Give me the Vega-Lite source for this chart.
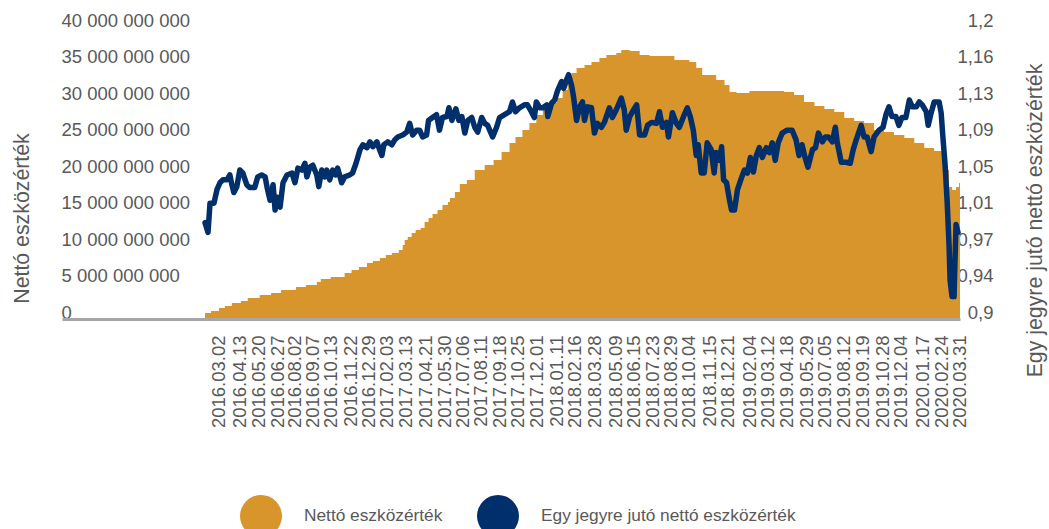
{
  "$schema": "https://vega.github.io/schema/vega-lite/v6.json",
  "autosize": {"type": "none"},
  "width": 898,
  "height": 292,
  "padding": {"left": 62, "top": 27, "right": 89, "bottom": 210},
  "config": {
    "font": "Liberation Sans",
    "view": {"stroke": null},
    "axis": {"labelColor": "#595959", "titleColor": "#595959", "labelFontSize": 18.5, "titleFontSize": 21.3, "titleFontWeight": "normal", "grid": false, "labelOverlap": false}
  },
  "datasets": {
    "nav": [
      {"date": "2016-02-03", "nav": 820000000},
      {"date": "2016-02-15", "nav": 1100000000},
      {"date": "2016-03-02", "nav": 1510000000},
      {"date": "2016-03-14", "nav": 1780000000},
      {"date": "2016-03-28", "nav": 2190000000},
      {"date": "2016-04-15", "nav": 2470000000},
      {"date": "2016-04-29", "nav": 2880000000},
      {"date": "2016-05-23", "nav": 3290000000},
      {"date": "2016-06-15", "nav": 3560000000},
      {"date": "2016-07-05", "nav": 3970000000},
      {"date": "2016-08-04", "nav": 4380000000},
      {"date": "2016-08-24", "nav": 4660000000},
      {"date": "2016-09-15", "nav": 5070000000},
      {"date": "2016-09-23", "nav": 5480000000},
      {"date": "2016-10-13", "nav": 5750000000},
      {"date": "2016-11-10", "nav": 6300000000},
      {"date": "2016-11-24", "nav": 6710000000},
      {"date": "2016-12-09", "nav": 7120000000},
      {"date": "2016-12-25", "nav": 7670000000},
      {"date": "2017-01-06", "nav": 7950000000},
      {"date": "2017-01-20", "nav": 8360000000},
      {"date": "2017-02-01", "nav": 8770000000},
      {"date": "2017-02-13", "nav": 9040000000},
      {"date": "2017-02-27", "nav": 9450000000},
      {"date": "2017-03-07", "nav": 10140000000},
      {"date": "2017-03-11", "nav": 10820000000},
      {"date": "2017-03-17", "nav": 11230000000},
      {"date": "2017-03-25", "nav": 11780000000},
      {"date": "2017-04-02", "nav": 12190000000},
      {"date": "2017-04-12", "nav": 12470000000},
      {"date": "2017-04-20", "nav": 13290000000},
      {"date": "2017-04-28", "nav": 13840000000},
      {"date": "2017-05-06", "nav": 14380000000},
      {"date": "2017-05-16", "nav": 14930000000},
      {"date": "2017-05-26", "nav": 15620000000},
      {"date": "2017-06-06", "nav": 16030000000},
      {"date": "2017-06-10", "nav": 16580000000},
      {"date": "2017-06-20", "nav": 17400000000},
      {"date": "2017-06-30", "nav": 18490000000},
      {"date": "2017-07-14", "nav": 19040000000},
      {"date": "2017-07-30", "nav": 20410000000},
      {"date": "2017-08-19", "nav": 21100000000},
      {"date": "2017-09-06", "nav": 21780000000},
      {"date": "2017-09-22", "nav": 22880000000},
      {"date": "2017-10-08", "nav": 24110000000},
      {"date": "2017-10-20", "nav": 24930000000},
      {"date": "2017-11-03", "nav": 25890000000},
      {"date": "2017-11-17", "nav": 26850000000},
      {"date": "2017-12-01", "nav": 27950000000},
      {"date": "2017-12-14", "nav": 28630000000},
      {"date": "2017-12-28", "nav": 29590000000},
      {"date": "2018-01-11", "nav": 30270000000},
      {"date": "2018-01-23", "nav": 31370000000},
      {"date": "2018-02-02", "nav": 33010000000},
      {"date": "2018-02-10", "nav": 33700000000},
      {"date": "2018-02-20", "nav": 34380000000},
      {"date": "2018-03-08", "nav": 34800000000},
      {"date": "2018-03-22", "nav": 35210000000},
      {"date": "2018-04-07", "nav": 35750000000},
      {"date": "2018-04-21", "nav": 36170000000},
      {"date": "2018-05-11", "nav": 36440000000},
      {"date": "2018-05-21", "nav": 36850000000},
      {"date": "2018-06-07", "nav": 36710000000},
      {"date": "2018-06-27", "nav": 36170000000},
      {"date": "2018-07-17", "nav": 36030000000},
      {"date": "2018-09-05", "nav": 35480000000},
      {"date": "2018-10-05", "nav": 35210000000},
      {"date": "2018-10-19", "nav": 34380000000},
      {"date": "2018-10-31", "nav": 33430000000},
      {"date": "2018-11-28", "nav": 32740000000},
      {"date": "2018-12-15", "nav": 32060000000},
      {"date": "2018-12-25", "nav": 31100000000},
      {"date": "2019-01-08", "nav": 30960000000},
      {"date": "2019-02-03", "nav": 31230000000},
      {"date": "2019-04-14", "nav": 31100000000},
      {"date": "2019-05-04", "nav": 30690000000},
      {"date": "2019-05-24", "nav": 29730000000},
      {"date": "2019-06-14", "nav": 29180000000},
      {"date": "2019-07-04", "nav": 28770000000},
      {"date": "2019-07-24", "nav": 28360000000},
      {"date": "2019-08-13", "nav": 27530000000},
      {"date": "2019-09-02", "nav": 27120000000},
      {"date": "2019-09-22", "nav": 26850000000},
      {"date": "2019-10-12", "nav": 25890000000},
      {"date": "2019-11-01", "nav": 25620000000},
      {"date": "2019-11-21", "nav": 25210000000},
      {"date": "2019-12-12", "nav": 24800000000},
      {"date": "2020-01-01", "nav": 24110000000},
      {"date": "2020-01-21", "nav": 23430000000},
      {"date": "2020-02-10", "nav": 23010000000},
      {"date": "2020-02-28", "nav": 22740000000},
      {"date": "2020-03-07", "nav": 20410000000},
      {"date": "2020-03-11", "nav": 18080000000},
      {"date": "2020-03-17", "nav": 17670000000},
      {"date": "2020-03-25", "nav": 18080000000},
      {"date": "2020-03-31", "nav": 18630000000},
      {"date": "2020-04-02", "nav": 18630000000}
    ],
    "price": [
      {"date": "2016-02-03", "price": 0.999},
      {"date": "2016-02-09", "price": 0.989},
      {"date": "2016-02-13", "price": 1.019},
      {"date": "2016-02-21", "price": 1.019},
      {"date": "2016-02-27", "price": 1.033},
      {"date": "2016-03-04", "price": 1.040},
      {"date": "2016-03-10", "price": 1.043},
      {"date": "2016-03-18", "price": 1.043},
      {"date": "2016-03-24", "price": 1.048},
      {"date": "2016-03-28", "price": 1.038},
      {"date": "2016-04-01", "price": 1.030},
      {"date": "2016-04-07", "price": 1.036},
      {"date": "2016-04-13", "price": 1.053},
      {"date": "2016-04-19", "price": 1.050},
      {"date": "2016-04-27", "price": 1.038},
      {"date": "2016-05-03", "price": 1.035},
      {"date": "2016-05-13", "price": 1.035},
      {"date": "2016-05-19", "price": 1.046},
      {"date": "2016-05-27", "price": 1.048},
      {"date": "2016-06-03", "price": 1.046},
      {"date": "2016-06-07", "price": 1.035},
      {"date": "2016-06-13", "price": 1.022},
      {"date": "2016-06-19", "price": 1.038},
      {"date": "2016-06-23", "price": 1.012},
      {"date": "2016-06-27", "price": 1.025},
      {"date": "2016-07-03", "price": 1.015},
      {"date": "2016-07-09", "price": 1.040},
      {"date": "2016-07-17", "price": 1.048},
      {"date": "2016-07-27", "price": 1.050},
      {"date": "2016-08-02", "price": 1.040},
      {"date": "2016-08-08", "price": 1.055},
      {"date": "2016-08-16", "price": 1.053},
      {"date": "2016-08-22", "price": 1.060},
      {"date": "2016-08-26", "price": 1.046},
      {"date": "2016-09-01", "price": 1.056},
      {"date": "2016-09-07", "price": 1.058},
      {"date": "2016-09-15", "price": 1.048},
      {"date": "2016-09-19", "price": 1.036},
      {"date": "2016-09-25", "price": 1.053},
      {"date": "2016-10-01", "price": 1.046},
      {"date": "2016-10-05", "price": 1.053},
      {"date": "2016-10-11", "price": 1.043},
      {"date": "2016-10-17", "price": 1.053},
      {"date": "2016-10-23", "price": 1.048},
      {"date": "2016-10-27", "price": 1.055},
      {"date": "2016-11-04", "price": 1.040},
      {"date": "2016-11-10", "price": 1.046},
      {"date": "2016-11-20", "price": 1.048},
      {"date": "2016-11-26", "price": 1.050},
      {"date": "2016-12-03", "price": 1.060},
      {"date": "2016-12-11", "price": 1.074},
      {"date": "2016-12-17", "price": 1.079},
      {"date": "2016-12-25", "price": 1.076},
      {"date": "2016-12-31", "price": 1.082},
      {"date": "2017-01-06", "price": 1.077},
      {"date": "2017-01-14", "price": 1.082},
      {"date": "2017-01-18", "price": 1.076},
      {"date": "2017-01-24", "price": 1.068},
      {"date": "2017-01-28", "price": 1.079},
      {"date": "2017-02-05", "price": 1.082},
      {"date": "2017-02-13", "price": 1.079},
      {"date": "2017-02-19", "price": 1.084},
      {"date": "2017-02-25", "price": 1.087},
      {"date": "2017-03-07", "price": 1.089},
      {"date": "2017-03-15", "price": 1.092},
      {"date": "2017-03-21", "price": 1.101},
      {"date": "2017-03-27", "price": 1.089},
      {"date": "2017-04-04", "price": 1.094},
      {"date": "2017-04-10", "price": 1.094},
      {"date": "2017-04-16", "price": 1.087},
      {"date": "2017-04-24", "price": 1.089},
      {"date": "2017-04-28", "price": 1.104},
      {"date": "2017-05-06", "price": 1.107},
      {"date": "2017-05-14", "price": 1.110},
      {"date": "2017-05-20", "price": 1.094},
      {"date": "2017-05-26", "price": 1.107},
      {"date": "2017-06-04", "price": 1.108},
      {"date": "2017-06-08", "price": 1.117},
      {"date": "2017-06-14", "price": 1.104},
      {"date": "2017-06-22", "price": 1.116},
      {"date": "2017-06-28", "price": 1.104},
      {"date": "2017-07-04", "price": 1.108},
      {"date": "2017-07-10", "price": 1.091},
      {"date": "2017-07-16", "price": 1.104},
      {"date": "2017-07-24", "price": 1.107},
      {"date": "2017-07-30", "price": 1.097},
      {"date": "2017-08-05", "price": 1.092},
      {"date": "2017-08-13", "price": 1.107},
      {"date": "2017-08-19", "price": 1.101},
      {"date": "2017-08-25", "price": 1.099},
      {"date": "2017-09-04", "price": 1.087},
      {"date": "2017-09-12", "price": 1.097},
      {"date": "2017-09-18", "price": 1.107},
      {"date": "2017-09-28", "price": 1.110},
      {"date": "2017-10-08", "price": 1.113},
      {"date": "2017-10-14", "price": 1.123},
      {"date": "2017-10-20", "price": 1.113},
      {"date": "2017-10-28", "price": 1.117},
      {"date": "2017-11-07", "price": 1.120},
      {"date": "2017-11-13", "price": 1.120},
      {"date": "2017-11-21", "price": 1.113},
      {"date": "2017-11-27", "price": 1.107},
      {"date": "2017-12-01", "price": 1.123},
      {"date": "2017-12-08", "price": 1.117},
      {"date": "2017-12-14", "price": 1.117},
      {"date": "2017-12-22", "price": 1.120},
      {"date": "2017-12-24", "price": 1.108},
      {"date": "2018-01-01", "price": 1.122},
      {"date": "2018-01-07", "price": 1.125},
      {"date": "2018-01-13", "price": 1.135},
      {"date": "2018-01-21", "price": 1.144},
      {"date": "2018-01-25", "price": 1.137},
      {"date": "2018-01-31", "price": 1.146},
      {"date": "2018-02-04", "price": 1.151},
      {"date": "2018-02-10", "price": 1.140},
      {"date": "2018-02-14", "price": 1.128},
      {"date": "2018-02-20", "price": 1.104},
      {"date": "2018-02-26", "price": 1.118},
      {"date": "2018-03-04", "price": 1.123},
      {"date": "2018-03-08", "price": 1.104},
      {"date": "2018-03-14", "price": 1.118},
      {"date": "2018-03-22", "price": 1.117},
      {"date": "2018-03-28", "price": 1.091},
      {"date": "2018-04-03", "price": 1.101},
      {"date": "2018-04-11", "price": 1.097},
      {"date": "2018-04-17", "price": 1.102},
      {"date": "2018-04-27", "price": 1.117},
      {"date": "2018-05-03", "price": 1.107},
      {"date": "2018-05-11", "price": 1.115},
      {"date": "2018-05-21", "price": 1.127},
      {"date": "2018-05-27", "price": 1.115},
      {"date": "2018-05-31", "price": 1.094},
      {"date": "2018-06-07", "price": 1.108},
      {"date": "2018-06-15", "price": 1.115},
      {"date": "2018-06-21", "price": 1.120},
      {"date": "2018-06-27", "price": 1.089},
      {"date": "2018-07-07", "price": 1.089},
      {"date": "2018-07-13", "price": 1.099},
      {"date": "2018-07-21", "price": 1.102},
      {"date": "2018-07-31", "price": 1.101},
      {"date": "2018-08-06", "price": 1.113},
      {"date": "2018-08-12", "price": 1.097},
      {"date": "2018-08-20", "price": 1.102},
      {"date": "2018-08-24", "price": 1.087},
      {"date": "2018-09-01", "price": 1.112},
      {"date": "2018-09-09", "price": 1.101},
      {"date": "2018-09-15", "price": 1.097},
      {"date": "2018-09-25", "price": 1.110},
      {"date": "2018-10-01", "price": 1.117},
      {"date": "2018-10-07", "price": 1.108},
      {"date": "2018-10-13", "price": 1.094},
      {"date": "2018-10-19", "price": 1.068},
      {"date": "2018-10-23", "price": 1.079},
      {"date": "2018-10-29", "price": 1.050},
      {"date": "2018-11-04", "price": 1.050},
      {"date": "2018-11-10", "price": 1.081},
      {"date": "2018-11-18", "price": 1.074},
      {"date": "2018-11-24", "price": 1.050},
      {"date": "2018-11-28", "price": 1.071},
      {"date": "2018-12-05", "price": 1.063},
      {"date": "2018-12-09", "price": 1.077},
      {"date": "2018-12-13", "price": 1.043},
      {"date": "2018-12-19", "price": 1.040},
      {"date": "2018-12-25", "price": 1.022},
      {"date": "2018-12-29", "price": 1.012},
      {"date": "2019-01-04", "price": 1.012},
      {"date": "2019-01-10", "price": 1.033},
      {"date": "2019-01-18", "price": 1.045},
      {"date": "2019-01-24", "price": 1.053},
      {"date": "2019-01-30", "price": 1.050},
      {"date": "2019-02-05", "price": 1.066},
      {"date": "2019-02-11", "price": 1.051},
      {"date": "2019-02-17", "price": 1.068},
      {"date": "2019-02-23", "price": 1.076},
      {"date": "2019-03-01", "price": 1.066},
      {"date": "2019-03-09", "price": 1.076},
      {"date": "2019-03-15", "price": 1.071},
      {"date": "2019-03-21", "price": 1.081},
      {"date": "2019-03-27", "price": 1.063},
      {"date": "2019-04-02", "price": 1.081},
      {"date": "2019-04-10", "price": 1.091},
      {"date": "2019-04-20", "price": 1.094},
      {"date": "2019-04-30", "price": 1.094},
      {"date": "2019-05-08", "price": 1.084},
      {"date": "2019-05-14", "price": 1.068},
      {"date": "2019-05-20", "price": 1.079},
      {"date": "2019-05-26", "price": 1.066},
      {"date": "2019-06-01", "price": 1.056},
      {"date": "2019-06-10", "price": 1.074},
      {"date": "2019-06-16", "price": 1.076},
      {"date": "2019-06-22", "price": 1.091},
      {"date": "2019-06-30", "price": 1.082},
      {"date": "2019-07-06", "price": 1.087},
      {"date": "2019-07-12", "price": 1.087},
      {"date": "2019-07-20", "price": 1.082},
      {"date": "2019-07-26", "price": 1.097},
      {"date": "2019-07-30", "price": 1.081},
      {"date": "2019-08-07", "price": 1.061},
      {"date": "2019-08-17", "price": 1.061},
      {"date": "2019-08-25", "price": 1.060},
      {"date": "2019-08-31", "price": 1.074},
      {"date": "2019-09-06", "price": 1.084},
      {"date": "2019-09-16", "price": 1.099},
      {"date": "2019-09-22", "price": 1.087},
      {"date": "2019-09-28", "price": 1.087},
      {"date": "2019-10-06", "price": 1.072},
      {"date": "2019-10-12", "price": 1.087},
      {"date": "2019-10-22", "price": 1.094},
      {"date": "2019-10-30", "price": 1.097},
      {"date": "2019-11-05", "price": 1.110},
      {"date": "2019-11-11", "price": 1.118},
      {"date": "2019-11-17", "price": 1.108},
      {"date": "2019-11-25", "price": 1.108},
      {"date": "2019-12-01", "price": 1.099},
      {"date": "2019-12-07", "price": 1.107},
      {"date": "2019-12-15", "price": 1.107},
      {"date": "2019-12-22", "price": 1.125},
      {"date": "2019-12-28", "price": 1.118},
      {"date": "2020-01-05", "price": 1.118},
      {"date": "2020-01-11", "price": 1.123},
      {"date": "2020-01-17", "price": 1.120},
      {"date": "2020-01-25", "price": 1.113},
      {"date": "2020-01-29", "price": 1.099},
      {"date": "2020-02-04", "price": 1.112},
      {"date": "2020-02-10", "price": 1.123},
      {"date": "2020-02-20", "price": 1.123},
      {"date": "2020-02-24", "price": 1.112},
      {"date": "2020-02-28", "price": 1.084},
      {"date": "2020-03-03", "price": 1.058},
      {"date": "2020-03-07", "price": 1.022},
      {"date": "2020-03-11", "price": 0.976},
      {"date": "2020-03-13", "price": 0.940},
      {"date": "2020-03-17", "price": 0.923},
      {"date": "2020-03-21", "price": 0.923},
      {"date": "2020-03-23", "price": 0.961},
      {"date": "2020-03-25", "price": 0.997},
      {"date": "2020-03-29", "price": 0.989}
    ]
  },
  "encoding": {
    "x": {
      "field": "date", "type": "temporal",
      "scale": {"type": "utc", "domain": [{"year": 2015, "month": 4, "date": 21, "utc": true}, {"year": 2020, "month": 4, "date": 2, "utc": true}]},
      "axis": {
        "title": null, "format": "%Y.%m.%d", "labelAngle": 270, "labelPadding": 16, "ticks": false,
        "domainColor": "#A6A6A6", "domainWidth": 3, "labelOverlap": false, "labelFlush": false, "labelBound": false, "zindex": 1,
        "values": [
          {"year": 2016, "month": 3, "date": 2, "utc": true},
          {"year": 2016, "month": 4, "date": 13, "utc": true},
          {"year": 2016, "month": 5, "date": 20, "utc": true},
          {"year": 2016, "month": 6, "date": 27, "utc": true},
          {"year": 2016, "month": 8, "date": 2, "utc": true},
          {"year": 2016, "month": 9, "date": 7, "utc": true},
          {"year": 2016, "month": 10, "date": 13, "utc": true},
          {"year": 2016, "month": 11, "date": 22, "utc": true},
          {"year": 2016, "month": 12, "date": 29, "utc": true},
          {"year": 2017, "month": 2, "date": 3, "utc": true},
          {"year": 2017, "month": 3, "date": 13, "utc": true},
          {"year": 2017, "month": 4, "date": 21, "utc": true},
          {"year": 2017, "month": 5, "date": 30, "utc": true},
          {"year": 2017, "month": 7, "date": 6, "utc": true},
          {"year": 2017, "month": 8, "date": 11, "utc": true},
          {"year": 2017, "month": 9, "date": 18, "utc": true},
          {"year": 2017, "month": 10, "date": 25, "utc": true},
          {"year": 2017, "month": 12, "date": 1, "utc": true},
          {"year": 2018, "month": 1, "date": 11, "utc": true},
          {"year": 2018, "month": 2, "date": 16, "utc": true},
          {"year": 2018, "month": 3, "date": 28, "utc": true},
          {"year": 2018, "month": 5, "date": 9, "utc": true},
          {"year": 2018, "month": 6, "date": 15, "utc": true},
          {"year": 2018, "month": 7, "date": 23, "utc": true},
          {"year": 2018, "month": 8, "date": 29, "utc": true},
          {"year": 2018, "month": 10, "date": 4, "utc": true},
          {"year": 2018, "month": 11, "date": 15, "utc": true},
          {"year": 2018, "month": 12, "date": 21, "utc": true},
          {"year": 2019, "month": 2, "date": 4, "utc": true},
          {"year": 2019, "month": 3, "date": 12, "utc": true},
          {"year": 2019, "month": 4, "date": 18, "utc": true},
          {"year": 2019, "month": 5, "date": 29, "utc": true},
          {"year": 2019, "month": 7, "date": 5, "utc": true},
          {"year": 2019, "month": 8, "date": 12, "utc": true},
          {"year": 2019, "month": 9, "date": 19, "utc": true},
          {"year": 2019, "month": 10, "date": 28, "utc": true},
          {"year": 2019, "month": 12, "date": 4, "utc": true},
          {"year": 2020, "month": 1, "date": 17, "utc": true},
          {"year": 2020, "month": 2, "date": 24, "utc": true},
          {"year": 2020, "month": 3, "date": 31, "utc": true}
        ]
      }
    }
  },
  "layer": [
    {
      "data": {"name": "nav"},
      "mark": {"type": "area", "interpolate": "step-after"},
      "encoding": {
        "y": {
          "field": "nav", "type": "quantitative", "stack": null,
          "scale": {"domain": [0, 40000000000], "nice": false},
          "axis": {
            "orient": "left", "title": "Nettó eszközérték",
            "values": [0, 5000000000, 10000000000, 15000000000, 20000000000, 25000000000, 30000000000, 35000000000, 40000000000],
            "labelExpr": "datum.value == 0 ? '0' : format(datum.value / 1000000000, 'd') + ' 000 000 000'",
            "labelAlign": "left", "labelPadding": 1, "labelOffset": -7, "ticks": false, "domain": false,
            "titleX": -40, "titleY": 191, "titleAngle": 270, "titleAlign": "center", "titleBaseline": "middle"
          }
        },
        "color": {
          "datum": "Nettó eszközérték", "type": "nominal",
          "scale": {"domain": ["Nettó eszközérték", "Egy jegyre jutó nettó eszközérték"], "range": ["#D8952B", "#002F6C"]},
          "legend": {
            "orient": "none", "legendX": 178, "legendY": 468, "direction": "horizontal", "title": null,
            "symbolType": "circle", "symbolSize": 1764, "symbolStrokeWidth": 0, "symbolOpacity": 1,
            "labelFontSize": 17.3, "labelColor": "#595959", "labelOffset": 22, "columnPadding": 34,
            "labelLimit": 400, "padding": 0,
            "encode": {"symbols": {"update": {"fill": {"scale": "color", "field": "value"}, "opacity": {"value": 1}}}}
          }
        }
      }
    },
    {
      "data": {"name": "price"},
      "mark": {"type": "line", "strokeWidth": 5.5, "strokeJoin": "round", "strokeCap": "round"},
      "encoding": {
        "y": {
          "field": "price", "type": "quantitative",
          "scale": {"domain": [0.9, 1.2], "nice": false, "zero": false},
          "axis": {
            "orient": "right", "title": "Egy jegyre jutó nettó eszközérték",
            "values": [0.9, 0.9375, 0.975, 1.0125, 1.05, 1.0875, 1.125, 1.1625, 1.2],
            "labelExpr": "datum.value < 0.92 ? '0,9' : datum.value < 0.95 ? '0,94' : datum.value < 0.99 ? '0,97' : datum.value < 1.03 ? '1,01' : datum.value < 1.07 ? '1,05' : datum.value < 1.1 ? '1,09' : datum.value < 1.14 ? '1,13' : datum.value < 1.18 ? '1,16' : '1,2'",
            "labelAlign": "right", "labelPadding": 33, "labelOffset": -7, "ticks": false, "domain": false,
            "titleX": 75, "titleY": 193, "titleAngle": 270, "titleAlign": "center", "titleBaseline": "middle"
          }
        },
        "color": {"datum": "Egy jegyre jutó nettó eszközérték", "type": "nominal"}
      }
    }
  ],
  "resolve": {"scale": {"y": "independent"}}
}
